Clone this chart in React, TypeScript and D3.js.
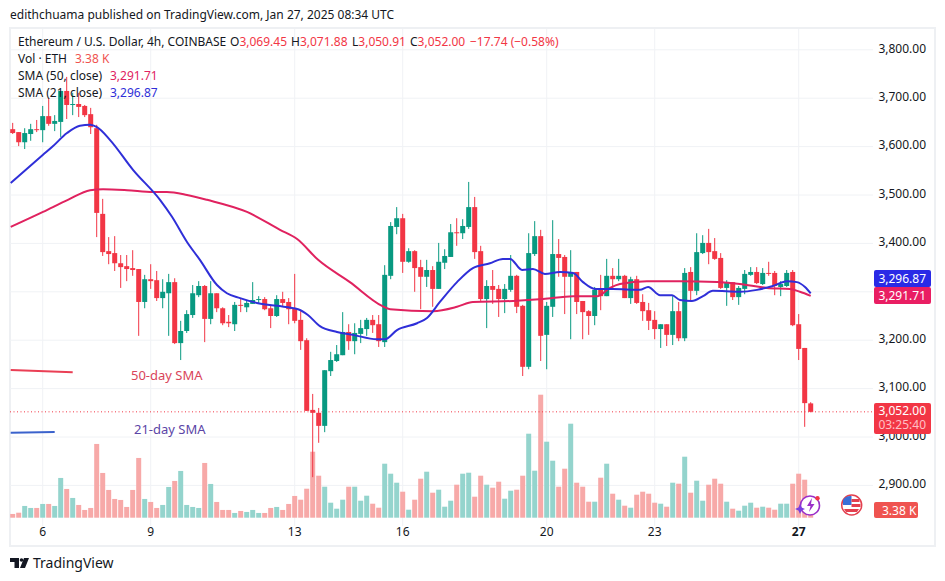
import React from "react";
import * as d3 from "d3";

const opens = [3636,3630,3609,3626,3636,3634,3663,3647,3651,3715,3686,3688,3684,3667,3638,3461,3384,3380,3359,3353,3349,3347,3279,3326,3324,3287,3297,3320,3194,3219,3252,3293,3312,3244,3297,3266,3238,3233,3273,3268,3275,3283,3285,3266,3250,3285,3279,3266,3242,3200,3056,3050,3023,3136,3157,3169,3217,3198,3213,3223,3242,3233,3196,3333,3434,3452,3362,3384,3351,3331,3345,3306,3360,3372,3423,3421,3434,3475,3384,3285,3312,3306,3285,3304,3333,3271,3145,3378,3415,3211,3269,3378,3372,3331,3341,3281,3260,3250,3304,3291,3333,3326,3333,3287,3326,3279,3262,3242,3223,3233,3211,3260,3204,3341,3302,3380,3401,3384,3370,3308,3320,3289,3306,3335,3341,3316,3339,3339,3310,3312,3341,3233,3184,3069.45];
const highs = [3649,3630,3638,3647,3655,3684,3700,3665,3715,3744,3711,3711,3686,3680,3645,3492,3413,3415,3376,3376,3386,3347,3335,3357,3343,3326,3337,3328,3240,3262,3314,3322,3314,3322,3297,3268,3252,3279,3285,3283,3320,3291,3289,3271,3293,3300,3287,3337,3260,3204,3089,3060,3138,3176,3190,3258,3233,3235,3242,3246,3252,3252,3355,3444,3475,3461,3390,3386,3366,3366,3353,3401,3388,3440,3452,3450,3527,3496,3395,3324,3345,3314,3316,3376,3335,3273,3421,3446,3428,3279,3448,3409,3376,3386,3341,3281,3262,3310,3335,3368,3349,3368,3335,3331,3333,3295,3277,3260,3233,3233,3291,3279,3349,3351,3421,3417,3430,3411,3380,3324,3320,3312,3345,3351,3351,3349,3362,3343,3322,3345,3345,3254,3184,3071.88];
const lows = [3626,3601,3595,3612,3630,3609,3643,3632,3620,3657,3665,3661,3661,3626,3413,3374,3357,3343,3308,3322,3333,3209,3266,3306,3281,3266,3209,3192,3159,3215,3246,3289,3196,3233,3258,3231,3227,3219,3258,3258,3275,3275,3262,3225,3248,3269,3233,3235,3180,3054,2917,2988,3010,3126,3155,3169,3180,3171,3194,3209,3215,3186,3186,3326,3419,3339,3360,3300,3264,3310,3269,3306,3347,3372,3395,3409,3430,3368,3281,3225,3275,3248,3256,3300,3256,3126,3140,3374,3157,3140,3248,3331,3254,3202,3254,3202,3211,3231,3262,3291,3304,3322,3287,3275,3275,3240,3221,3202,3184,3188,3190,3198,3198,3279,3293,3378,3357,3366,3306,3271,3283,3273,3295,3333,3316,3314,3333,3293,3291,3310,3229,3159,3021,3050.91];
const closes = [3628,3609,3628,3636,3634,3663,3647,3653,3715,3686,3688,3682,3665,3640,3463,3382,3378,3359,3351,3347,3345,3279,3326,3322,3287,3300,3320,3194,3219,3254,3297,3312,3244,3297,3266,3235,3235,3273,3271,3277,3283,3285,3264,3250,3285,3277,3264,3240,3198,3054,3050,3023,3138,3159,3171,3217,3198,3215,3225,3242,3231,3198,3335,3436,3452,3362,3384,3349,3331,3345,3306,3362,3374,3423,3421,3436,3475,3382,3285,3312,3304,3285,3306,3333,3269,3145,3380,3415,3209,3271,3378,3370,3331,3341,3279,3258,3250,3304,3291,3333,3326,3333,3287,3326,3277,3260,3240,3223,3233,3211,3260,3204,3339,3302,3382,3401,3382,3368,3308,3320,3289,3308,3337,3341,3318,3339,3337,3312,3316,3339,3231,3182,3070,3052];
const volumes = [1.5,2,4.7,3.9,3.9,5.5,5.5,4.7,15.9,11.5,7.9,5.1,3.1,3.9,29.5,17.9,11.1,7.5,7.1,4.3,11.1,23.9,7.5,6.3,3.9,5.1,12.3,14.7,18.7,5.1,4.3,3.9,21.9,13.5,6.3,3.1,3.1,1.9,2.7,2.3,3.1,1.9,1.9,3.9,4.3,3.1,5.5,8.7,7.2,11.6,26.4,16.8,12.4,6,3.6,7.2,12.4,12.4,6.8,8.8,5.6,4,21.6,17.6,14,10.4,3.2,7.2,15.6,18.4,10,11.2,4.4,6.8,13.2,17.6,18,8.4,16.8,13.2,12,14.4,7.6,10.8,11.2,16.8,33.6,18.8,49.2,30.4,22.8,12.4,19.6,37.6,14,12.4,6.4,6.4,16,21.6,9.6,7.2,4.8,4,9.2,10.4,9.6,6,5.6,4.4,14,13.6,24.4,10,14.8,6.8,13.2,15.6,13.6,6.4,3.6,2.8,4.8,6,4,4.4,4,3.2,5.6,5.6,13.6,17.6,15.2,3.38];

const sma21: [number, number][] = [[-0.33,3525],[5.05,3583],[6.55,3599],[9.05,3628],[11.2,3643],[12.9,3645],[14.05,3640],[16.2,3614],[20.05,3552],[24.55,3490],[26.55,3455],[29.05,3403],[31.2,3366],[34.05,3314],[35.7,3297],[37.9,3287],[40.7,3277],[44.05,3271],[47.55,3264],[49.2,3252],[51.2,3229],[54.05,3217],[56.7,3211],[60.7,3202],[62.05,3202],[64.05,3221],[67.4,3235],[69.05,3246],[71.2,3279],[74.05,3320],[76.7,3349],[79.55,3359],[81.7,3368],[82.9,3368],[84.9,3345],[86.7,3347],[88.7,3337],[91.2,3341],[93.4,3339],[95.05,3320],[97.05,3306],[100.05,3306],[104.55,3304],[105.9,3310],[107.9,3293],[109.9,3293],[111.2,3283],[113.2,3281],[115.05,3291],[116.7,3302],[121.2,3300],[124.05,3304],[126.7,3312],[129.05,3322],[130.7,3320],[132.05,3310],[133,3296.87]];
const sma50: [number, number][] = [[-0.33,3434],[5.05,3465],[9.2,3490],[12.9,3510],[15.05,3512],[19.05,3510],[23.4,3506],[25.7,3506],[29.05,3500],[32.4,3490],[39.05,3465],[44.55,3428],[47.4,3409],[50.9,3366],[56.2,3320],[61.55,3271],[62.9,3264],[70.05,3260],[74.05,3269],[76.7,3279],[83.4,3281],[88.4,3285],[93.4,3291],[97.4,3291],[99.55,3308],[101.2,3316],[105.7,3322],[111.2,3322],[117.4,3320],[121.2,3316],[125.7,3308],[129.55,3306],[131.2,3300],[133,3291.71]];

const priceTicks = [2900,3000,3100,3200,3300,3400,3500,3600,3700,3800];
const hiddenPriceLabels = [3300];
const dayIndex = [5,23,47,65,89,107,131];
const dayLabels = ["6","9","13","16","20","23","27"];

const UP = "#089981", DOWN = "#f23645";
const FONT = "'Noto Sans', sans-serif";

export default function App() {
  const x = d3.scaleLinear().domain([0, 133]).range([12.7, 810.7]);
  const y = d3.scaleLinear().domain([2900, 3800]).range([485.4, 49.8]);
  const v = d3.scaleLinear().domain([0, 50]).range([517.7, 392.7]);
  const line = d3.line<[number, number]>().x(d => x(d[0])).y(d => y(d[1])).curve(d3.curveMonotoneX);
  const fmt = d3.format(",.2f");
  const grid = "#f0f2f5";
  return (
    <svg width={945} height={581} viewBox="0 0 945 581" style={{ position: "absolute", left: 0, top: 0, background: "#fff" }} fontFamily={FONT}>
      <defs>
        <clipPath id="plot"><rect x={10} y={28} width={864} height={500} /></clipPath>
      </defs>
      <rect x={10} y={28} width={925} height={518} fill="none" stroke="#eef0f3" strokeWidth={2} />
      {priceTicks.map(t => <line key={t} x1={10} x2={873} y1={y(t)} y2={y(t)} stroke={grid} />)}
      {dayIndex.map(i => <line key={i} x1={x(i)} x2={x(i)} y1={29} y2={526} stroke={grid} />)}
      <g clipPath="url(#plot)">
        {volumes.map((d, i) => (
          <rect key={i} x={x(i) - 2.5} width={5} y={v(d)} height={v(0) - v(d)}
            fill={closes[i] >= opens[i] ? "#94d4cd" : "#f7a9a8"} />
        ))}
        <line x1={10} x2={874} y1={y(closes[133])} y2={y(closes[133])} stroke={DOWN} strokeDasharray="1 2.5" />
        {opens.map((o, i) => {
          const c = closes[i], col = c >= o ? UP : DOWN;
          const top = y(Math.max(o, c)), bot = y(Math.min(o, c));
          return (
            <g key={i}>
              <line x1={x(i)} x2={x(i)} y1={y(highs[i])} y2={y(lows[i])} stroke={col} />
              <rect x={x(i) - 2.5} width={5} y={top} height={Math.max(1, bot - top)} fill={col} />
            </g>
          );
        })}
        <path d={line(sma50) || ""} fill="none" stroke="#e0225f" strokeWidth={2} />
        <path d={line(sma21) || ""} fill="none" stroke="#2f2fd8" strokeWidth={2} />
      </g>

      {/* annotations */}
      <line x1={10.7} x2={72.7} y1={370} y2={372.3} stroke="#ea3f55" strokeWidth={2} />
      <text x={131} y={380} fontSize={13} fill="#d9455a">50-day SMA</text>
      <line x1={10.7} x2={54.7} y1={432.7} y2={432} stroke="#3a62cc" strokeWidth={2} />
      <text x={134} y={434} fontSize={13} fill="#5b45a6">21-day SMA</text>

      {/* price axis */}
      {priceTicks.filter(t => !hiddenPriceLabels.includes(t)).map(t => (
        <text key={t} x={926} y={y(t) + 2.8} textAnchor="end" fontSize={12} fill="#131722">{fmt(t)}</text>
      ))}
      <rect x={874} y={270} width={57} height={17} rx={2} fill="#2a2ae6" />
      <text x={926} y={282.5} textAnchor="end" fontSize={12} fill="#fff">{fmt(3296.87)}</text>
      <rect x={874} y={287} width={57} height={17} rx={2} fill="#e91e63" />
      <text x={926} y={299.5} textAnchor="end" fontSize={12} fill="#fff">{fmt(3291.71)}</text>
      <rect x={874} y={403} width={57} height={31} rx={2} fill={DOWN} />
      <text x={926} y={415} textAnchor="end" fontSize={12} fill="#fff">{fmt(closes[133])}</text>
      <text x={926} y={429} textAnchor="end" fontSize={12} fill="#ffc0c5">03:25:40</text>
      <rect x={874} y={502} width={44} height={16} rx={2} fill="#ef5350" />
      <text x={882} y={514.5} fontSize={12} fill="#fff">3.38 K</text>

      {/* time axis */}
      {dayIndex.map((i, k) => (
        <text key={i} x={x(i)} y={536} textAnchor="middle" fontSize={12} fontWeight={k === 6 ? 700 : 400} fill="#131722">{dayLabels[k]}</text>
      ))}

      {/* header */}
      <text x={10} y={19} fontSize={12} fill="#131722">edithchuama published on TradingView.com, Jan 27, 2025 08:34 UTC</text>
      <g fontSize={12}>
        <text x={18} y={46} fill="#131722">Ethereum / U.S. Dollar, 4h, COINBASE</text>
        <text x={230} y={46} fill="#131722">O<tspan fill={DOWN}>3,069.45</tspan></text>
        <text x={291} y={46} fill="#131722">H<tspan fill={DOWN}>3,071.88</tspan></text>
        <text x={352} y={46} fill="#131722">L<tspan fill={DOWN}>3,050.91</tspan></text>
        <text x={410} y={46} fill="#131722">C<tspan fill={DOWN}>3,052.00</tspan></text>
        <text x={470} y={46} fill={DOWN}>−17.74 (−0.58%)</text>
        <text x={18} y={63} fill="#131722">Vol · ETH</text>
        <text x={75} y={63} fill="#ef5350">3.38 K</text>
        <text x={18} y={80} fill="#131722">SMA (50, close)</text>
        <text x={110} y={80} fill="#e0225f">3,291.71</text>
        <text x={18} y={97} fill="#131722">SMA (21, close)</text>
        <text x={110} y={97} fill="#2f2fd8">3,296.87</text>
      </g>

      {/* logo */}
      <g fill="#131722">
        <path d="M10 558h9v10h-4.5v-6H10z" />
        <circle cx={21.5} cy={560} r={1.8} />
        <path d="M24 558h5l-4 10h-5z" />
      </g>
      <text x={33} y={568} fontSize={14} fill="#131722">TradingView</text>

      {/* icons */}
      <circle cx={810} cy={505.5} r={9.5} fill="#fff" stroke="#9b2fc9" strokeWidth={1.6} />
      <path d="M812 498l-5 8h3.5l-1.5 6 5.5-8h-3.5z" fill="#9b2fc9" />
      <path d="M800 504l1.6 3.4 3.4 1.6-3.4 1.6-1.6 3.4-1.6-3.4-3.4-1.6 3.4-1.6z" fill="#7a3ee0" />
      <circle cx={817.5} cy={498.3} r={2.2} fill={DOWN} />
      <circle cx={851.7} cy={505} r={10} fill="#fff" stroke="#e3404f" strokeWidth={1.5} />
      <path d="M843 500a9 9 0 0 1 8.5-4v9H843z" fill="#3a6fd8" />
      <path d="M851.5 499h8v3h-8zM851.5 504h9v3h-9zM844 509h15l-2 3h-11z" fill="#e3404f" />
    </svg>
  );
}
